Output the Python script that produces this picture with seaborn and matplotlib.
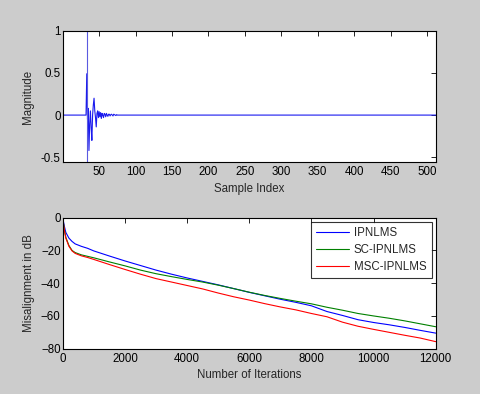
import numpy as np
import pandas as pd
import matplotlib
matplotlib.use("Agg")
import matplotlib.pyplot as plt
import seaborn as sns

sns.set_theme(style="white")
plt.rcParams["font.family"] = ["Liberation Sans", "DejaVu Sans"]

# impulse response (echo path), nonzero taps start at sample 33
n_taps = 512
response_start = 33
response_taps = [0.49, -0.05, 0.08, -0.42, -0.10, 0.05, -0.15, -0.30, 0.0, 0.12,
                 0.20, 0.05, -0.03, -0.14, 0.02, 0.05, -0.03, 0.04, -0.02, 0.03,
                 -0.04, 0.02, 0.0, -0.03, 0.02, 0.01, -0.02, 0.02, 0.0, -0.015,
                 0.01, 0.01, -0.01, 0.005, 0.01, 0.0, -0.01, 0.01, 0.005, 0.0,
                 -0.005, 0.005, 0.0]
delay_index = 34

# misalignment curves (dB)
iterations = [0, 50, 100, 200, 300, 400, 600, 800, 1000, 1500, 2000, 2500, 3000,
              3500, 4000, 4500, 5000, 5500, 6000, 6500, 7000, 7500, 8000, 8500,
              9000, 9500, 10000, 10500, 11000, 11500, 12000]
ipnlms = [0, -5, -9, -12.5, -14.5, -16, -17.5, -18.7, -20.3, -23.4, -26.4, -29.2,
          -32, -34.5, -36.8, -38.9, -41, -43.3, -45.6, -47.7, -49.8, -51.7,
          -53.8, -57.3, -59.7, -62.3, -64, -65.4, -67, -68.8, -70.5]
sc_ipnlms = [0, -7, -12, -17, -20, -21.3, -22.7, -23.6, -24.5, -27, -29.4, -32,
             -34.2, -36, -37.7, -39.3, -41.2, -43.3, -45.5, -47.5, -49.3, -51,
             -52.6, -54.7, -56.5, -58.5, -60, -61.4, -63, -64.8, -66.6]
msc_ipnlms = [0, -7.5, -12.5, -17.5, -20.3, -21.8, -23.3, -24.3, -25.5, -28.6,
              -31.6, -34.5, -37.2, -39.3, -41.4, -43.5, -46, -48.3, -50.3, -52.5,
              -54.5, -56.3, -58.5, -60.5, -63.8, -66.3, -68.2, -70, -71.8, -73.5,
              -75.7]
names = ["IPNLMS", "SC-IPNLMS", "MSC-IPNLMS"]
colors = ["#0000ff", "#008000", "#ff0000"]

h = np.zeros(n_taps)
h[response_start - 1:response_start - 1 + len(response_taps)] = response_taps
df_h = pd.DataFrame({"n": np.arange(1, n_taps + 1), "h": h})

df = pd.DataFrame({
    "it": iterations * 3,
    "dB": ipnlms + sc_ipnlms + msc_ipnlms,
    "alg": [names[0]] * len(iterations) + [names[1]] * len(iterations)
           + [names[2]] * len(iterations),
})

fig = plt.figure(figsize=(4.81, 3.94), dpi=100, facecolor="#cccccc")
ax1 = fig.add_axes([0.1304, 0.588, 0.7755, 0.334])
ax2 = fig.add_axes([0.1304, 0.115, 0.7755, 0.3325])

fs = 8.3

# top: impulse response
sns.lineplot(data=df_h, x="n", y="h", ax=ax1, color="#1a1aee", lw=0.8,
             estimator=None, sort=False)
ax1.axvline(delay_index, color="#5a5ae0", lw=0.8)
ax1.set_xlim(0, 512)
ax1.set_ylim(-0.56, 1)
ax1.set_xticks(range(50, 501, 50))
ax1.set_yticks([-0.5, 0, 0.5, 1])
ax1.set_yticklabels(["-0.5", "0", "0.5", "1"])
ax1.set_xlabel("Sample Index", fontsize=fs, labelpad=3)
ax1.set_ylabel("Magnitude", fontsize=fs, labelpad=5)

# bottom: misalignment
sns.lineplot(data=df, x="it", y="dB", hue="alg", palette=colors, ax=ax2,
             lw=0.8, estimator=None, sort=False)
ax2.set_xlim(0, 12000)
ax2.set_ylim(-80, 0)
ax2.set_xticks(range(0, 12001, 2000))
ax2.set_yticks(range(-80, 1, 20))
ax2.set_xlabel("Number of Iterations", fontsize=fs, labelpad=3)
ax2.set_ylabel("Misalignment in dB", fontsize=fs, labelpad=4)
leg = ax2.legend(loc="upper right", fontsize=fs, frameon=True, fancybox=False,
                 edgecolor="black", handlelength=2.9, borderaxespad=0.35,
                 labelspacing=0.45, borderpad=0.45, handletextpad=0.4)
leg.get_frame().set_linewidth(0.8)

for ax in (ax1, ax2):
    ax.set_facecolor("white")
    ax.tick_params(direction="in", length=3.5, width=0.6, top=True, right=True,
                   labelsize=fs, pad=1.5, colors="black")
    ax.tick_params(axis="x", pad=3)
    for s in ax.spines.values():
        s.set_visible(True)
        s.set_color("black")
        s.set_linewidth(0.8)

fig.savefig("out.png", dpi=100, facecolor=fig.get_facecolor())
